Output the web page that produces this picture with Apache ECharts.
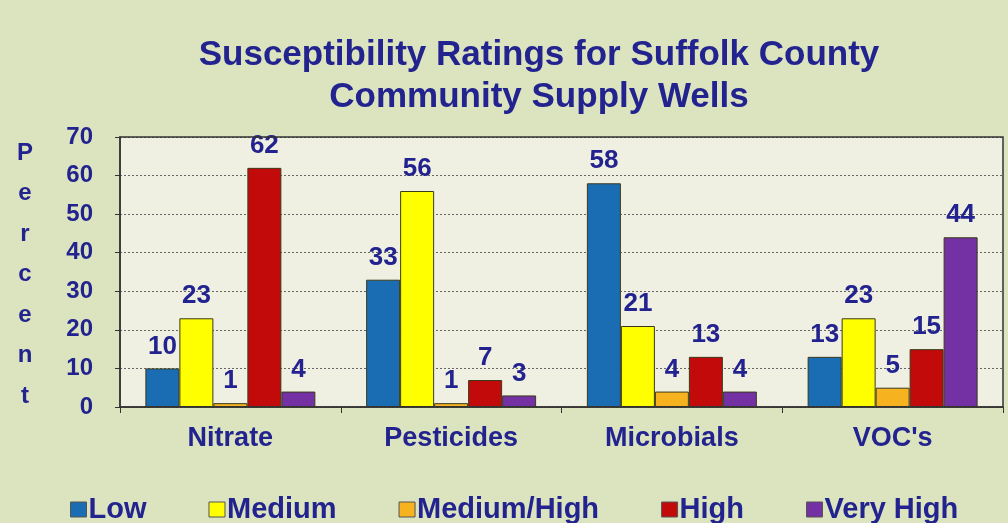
<!DOCTYPE html>
<html><head><meta charset="utf-8">
<script src="https://cdn.jsdelivr.net/npm/echarts@6/dist/echarts.min.js"></script>
<style>html,body{margin:0;padding:0;background:#dbe4bf;}#c{width:1008px;height:523px;}</style>
</head><body><div id="c"></div>
<script>
const categories = ["Nitrate", "Pesticides", "Microbials", "VOC's"];
const seriesNames = ["Low", "Medium", "Medium/High", "High", "Very High"];
const low = [10, 33, 58, 13];
const medium = [23, 56, 21, 23];
const mediumHigh = [1, 1, 4, 5];
const high = [62, 7, 13, 15];
const veryHigh = [4, 3, 4, 44];
const yTicks = [0, 10, 20, 30, 40, 50, 60, 70];

const colors = ["#1a6db3", "#ffff00", "#f6b21f", "#c20a0a", "#7331a3"];
const values = [low, medium, mediumHigh, high, veryHigh];
const textColor = "#23238f";
const font = "'Liberation Sans', Arial, sans-serif";

const chart = echarts.init(document.getElementById('c'));
chart.setOption({
  backgroundColor: '#dbe4bf',
  animation: false,
  title: {
    text: 'Susceptibility Ratings for Suffolk County\nCommunity Supply Wells',
    left: 534, top: 29, textAlign: 'center',
    textStyle: { color: textColor, fontFamily: font, fontWeight: 'bold', fontSize: 35, lineHeight: 42 }
  },
  legend: {
    top: 490, left: 65, itemGap: 62, itemWidth: 16, itemHeight: 15,
    icon: 'rect',
    data: seriesNames,
    itemStyle: { borderColor: '#555', borderWidth: 1 },
    textStyle: { color: textColor, fontFamily: font, fontWeight: 'bold', fontSize: 29, padding: [0,0,0,-3] }
  },
  graphic: [{
    type: 'text', left: 17, top: 133,
    style: { text: 'P\ne\nr\nc\ne\nn\nt', fill: textColor, font: 'bold 24px ' + font, lineHeight: 40.5, textAlign: 'center' }
  }, {
    type: 'rect', shape: { x: 120, y: 137, width: 883, height: 270 },
    style: { fill: 'none', stroke: '#333', lineWidth: 1.5 }, z: 10, silent: true
  }],
  grid: { left: 120, right: 5, top: 137, bottom: 116, backgroundColor: '#eff0e2', show: true, borderWidth: 0 },
  xAxis: {
    type: 'category', data: categories,
    axisLine: { lineStyle: { color: '#333', width: 1.5 } },
    axisTick: { show: true, length: 6, lineStyle: { color: '#333' } },
    axisLabel: { color: textColor, fontFamily: font, fontWeight: 'bold', fontSize: 27, margin: 18 }
  },
  yAxis: {
    type: 'value', min: 0, max: 70, interval: 10,
    axisLine: { show: true, lineStyle: { color: '#333', width: 1.5 } },
    axisTick: { show: true, length: 5, lineStyle: { color: '#333' } },
    axisLabel: { color: textColor, fontFamily: font, fontWeight: 'bold', fontSize: 24, margin: 27,
      formatter: v => yTicks.includes(v) ? String(v) : '' },
    splitLine: { lineStyle: { color: '#666', type: [2, 2], width: 1 } }
  },
  series: seriesNames.map((n, i) => ({
    name: n, type: 'bar', data: values[i],
    barGap: '0%', barCategoryGap: '23%',
    itemStyle: { color: colors[i], borderColor: '#3a3a1a', borderWidth: 1 },
    label: { show: true, position: 'top', distance: 9, color: textColor, fontFamily: font, fontWeight: 'bold', fontSize: 26 }
  }))
});
</script></body></html>
